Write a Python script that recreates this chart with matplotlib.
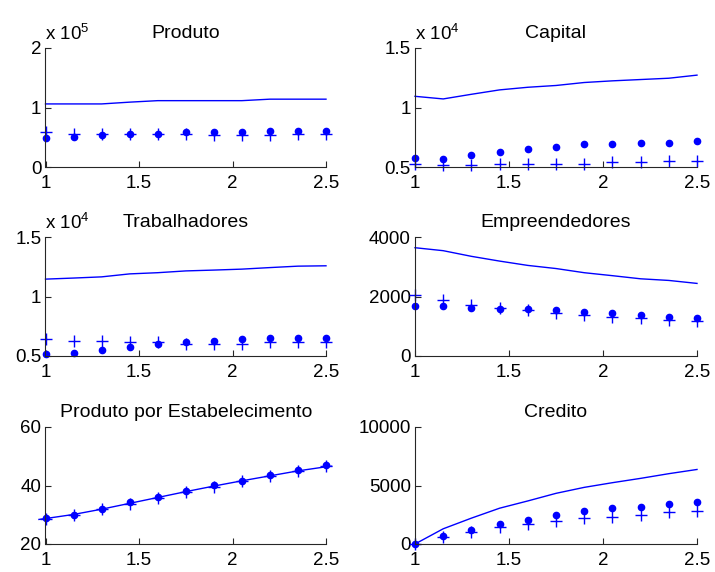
import matplotlib
matplotlib.use("Agg")
import matplotlib.pyplot as plt

plt.rcParams['font.family'] = ['Liberation Sans', 'DejaVu Sans']
plt.rcParams['mathtext.default'] = 'regular'

x = [1.0, 1.15, 1.3, 1.45, 1.6, 1.75, 1.9, 2.05, 2.2, 2.35, 2.5]

titles = ["Produto", "Capital", "Trabalhadores", "Empreendedores",
          "Produto por Estabelecimento", "Credito"]

# Produto (x 1e5)
prod_line = [1.06, 1.06, 1.06, 1.09, 1.115, 1.115, 1.115, 1.115, 1.14, 1.14, 1.14]
prod_dot = [0.48, 0.51, 0.535, 0.55, 0.55, 0.58, 0.58, 0.58, 0.61, 0.61, 0.61]
prod_plus = [0.58, 0.56, 0.55, 0.55, 0.56, 0.56, 0.53, 0.53, 0.53, 0.56, 0.56]

# Capital (x 1e4)
cap_line = [1.094, 1.072, 1.111, 1.148, 1.170, 1.185, 1.21, 1.224, 1.235, 1.246, 1.272]
cap_dot = [0.579, 0.565, 0.601, 0.627, 0.652, 0.666, 0.692, 0.692, 0.703, 0.703, 0.717]
cap_plus = [0.528, 0.514, 0.514, 0.528, 0.528, 0.528, 0.528, 0.539, 0.539, 0.554, 0.554]

# Trabalhadores (x 1e4)
trab_line = [1.146, 1.155, 1.165, 1.19, 1.20, 1.215, 1.222, 1.23, 1.243, 1.255, 1.258]
trab_dot = [0.514, 0.525, 0.551, 0.576, 0.601, 0.615, 0.626, 0.640, 0.652, 0.652, 0.652]
trab_plus = [0.640, 0.629, 0.629, 0.615, 0.615, 0.604, 0.604, 0.604, 0.615, 0.615, 0.615]

# Empreendedores
emp_line = [3640, 3540, 3350, 3190, 3045, 2940, 2800, 2700, 2595, 2540, 2440]
emp_dot = [1675, 1675, 1630, 1585, 1585, 1530, 1485, 1440, 1380, 1325, 1280]
emp_plus = [2035, 1880, 1730, 1630, 1530, 1430, 1380, 1325, 1280, 1225, 1180]

# Produto por Estabelecimento (line drawn slightly past the axis range)
pe_line_x = [0.965, 1.0, 1.15, 1.3, 1.45, 1.6, 1.75, 1.9, 2.05, 2.2, 2.35, 2.5, 2.53]
pe_line = [28.4, 28.7, 30.1, 31.9, 33.9, 35.9, 37.9, 39.8, 41.6, 43.3, 45.0, 46.4, 46.6]
pe_dot = [28.8, 30.0, 32.0, 34.2, 36.1, 38.1, 40.2, 41.6, 43.7, 45.3, 46.9]
pe_plus = [28.6, 29.8, 31.8, 33.8, 35.8, 37.8, 39.6, 41.4, 43.3, 45.0, 46.5]

# Credito
cred_line = [0, 1300, 2210, 3060, 3680, 4330, 4840, 5240, 5610, 6010, 6370]
cred_dot = [0, 650, 1160, 1670, 2040, 2440, 2830, 3060, 3200, 3460, 3600]
cred_plus = [0, 620, 1020, 1420, 1670, 1950, 2180, 2320, 2440, 2720, 2830]

panels = [
    dict(lx=x, l=prod_line, d=prod_dot, p=prod_plus, ylim=(0, 2), yt=[0, 1, 2], ytl=["0", "1", "2"], exp="5"),
    dict(lx=x, l=cap_line, d=cap_dot, p=cap_plus, ylim=(0.5, 1.5), yt=[0.5, 1, 1.5], ytl=["0.5", "1", "1.5"], exp="4"),
    dict(lx=x, l=trab_line, d=trab_dot, p=trab_plus, ylim=(0.5, 1.5), yt=[0.5, 1, 1.5], ytl=["0.5", "1", "1.5"], exp="4"),
    dict(lx=x, l=emp_line, d=emp_dot, p=emp_plus, ylim=(0, 4000), yt=[0, 2000, 4000], ytl=["0", "2000", "4000"], exp=None),
    dict(lx=pe_line_x, l=pe_line, d=pe_dot, p=pe_plus, ylim=(20, 60), yt=[20, 40, 60], ytl=["20", "40", "60"], exp=None),
    dict(lx=x, l=cred_line, d=cred_dot, p=cred_plus, ylim=(0, 10000), yt=[0, 5000, 10000], ytl=["0", "5000", "10000"], exp=None),
]

W, H = 715, 572
fig = plt.figure(figsize=(W / 100, H / 100), dpi=100)

cols = [(45.5, 326), (415, 697)]
rows = [(48, 167), (237, 356), (427, 544)]

blue = (0, 0, 1)
for i, pan in enumerate(panels):
    r, c = divmod(i, 2)
    x0, x1 = cols[c]
    yt, yb = rows[r]
    ax = fig.add_axes([x0 / W, 1 - yb / H, (x1 - x0) / W, (yb - yt) / H])
    ax.plot(pan["lx"], pan["l"], color=blue, lw=1.0, clip_on=False)
    ax.plot(x, pan["d"], 'o', color=blue, ms=4.5, clip_on=False)
    ax.plot(x, pan["p"], '+', color=blue, ms=8.5, mew=1.0, clip_on=False)
    ax.set_xlim(1, 2.5)
    ax.set_ylim(*pan["ylim"])
    ax.set_xticks([1, 1.5, 2, 2.5])
    ax.set_xticklabels(["1", "1.5", "2", "2.5"])
    ax.set_yticks(pan["yt"])
    ax.set_yticklabels(pan["ytl"])
    ax.spines['top'].set_visible(False)
    ax.spines['right'].set_visible(False)
    for s in ('left', 'bottom'):
        ax.spines[s].set_linewidth(0.8)
        ax.spines[s].set_color('#262626')
    ax.tick_params(direction='in', length=4, width=0.8, labelsize=13.5, pad=3, colors='#262626', labelcolor='black')
    ax.tick_params(axis='x', pad=5.5)
    ax.set_title(titles[i], fontsize=14, pad=7)
    if pan["exp"]:
        ax.annotate(r'x 10$^{%s}$' % pan["exp"], xy=(0, 1), xycoords='axes fraction',
                    xytext=(0, 5.5), textcoords='offset points',
                    fontsize=13.5, ha='left', va='baseline')

fig.savefig("out.png", dpi=100)
